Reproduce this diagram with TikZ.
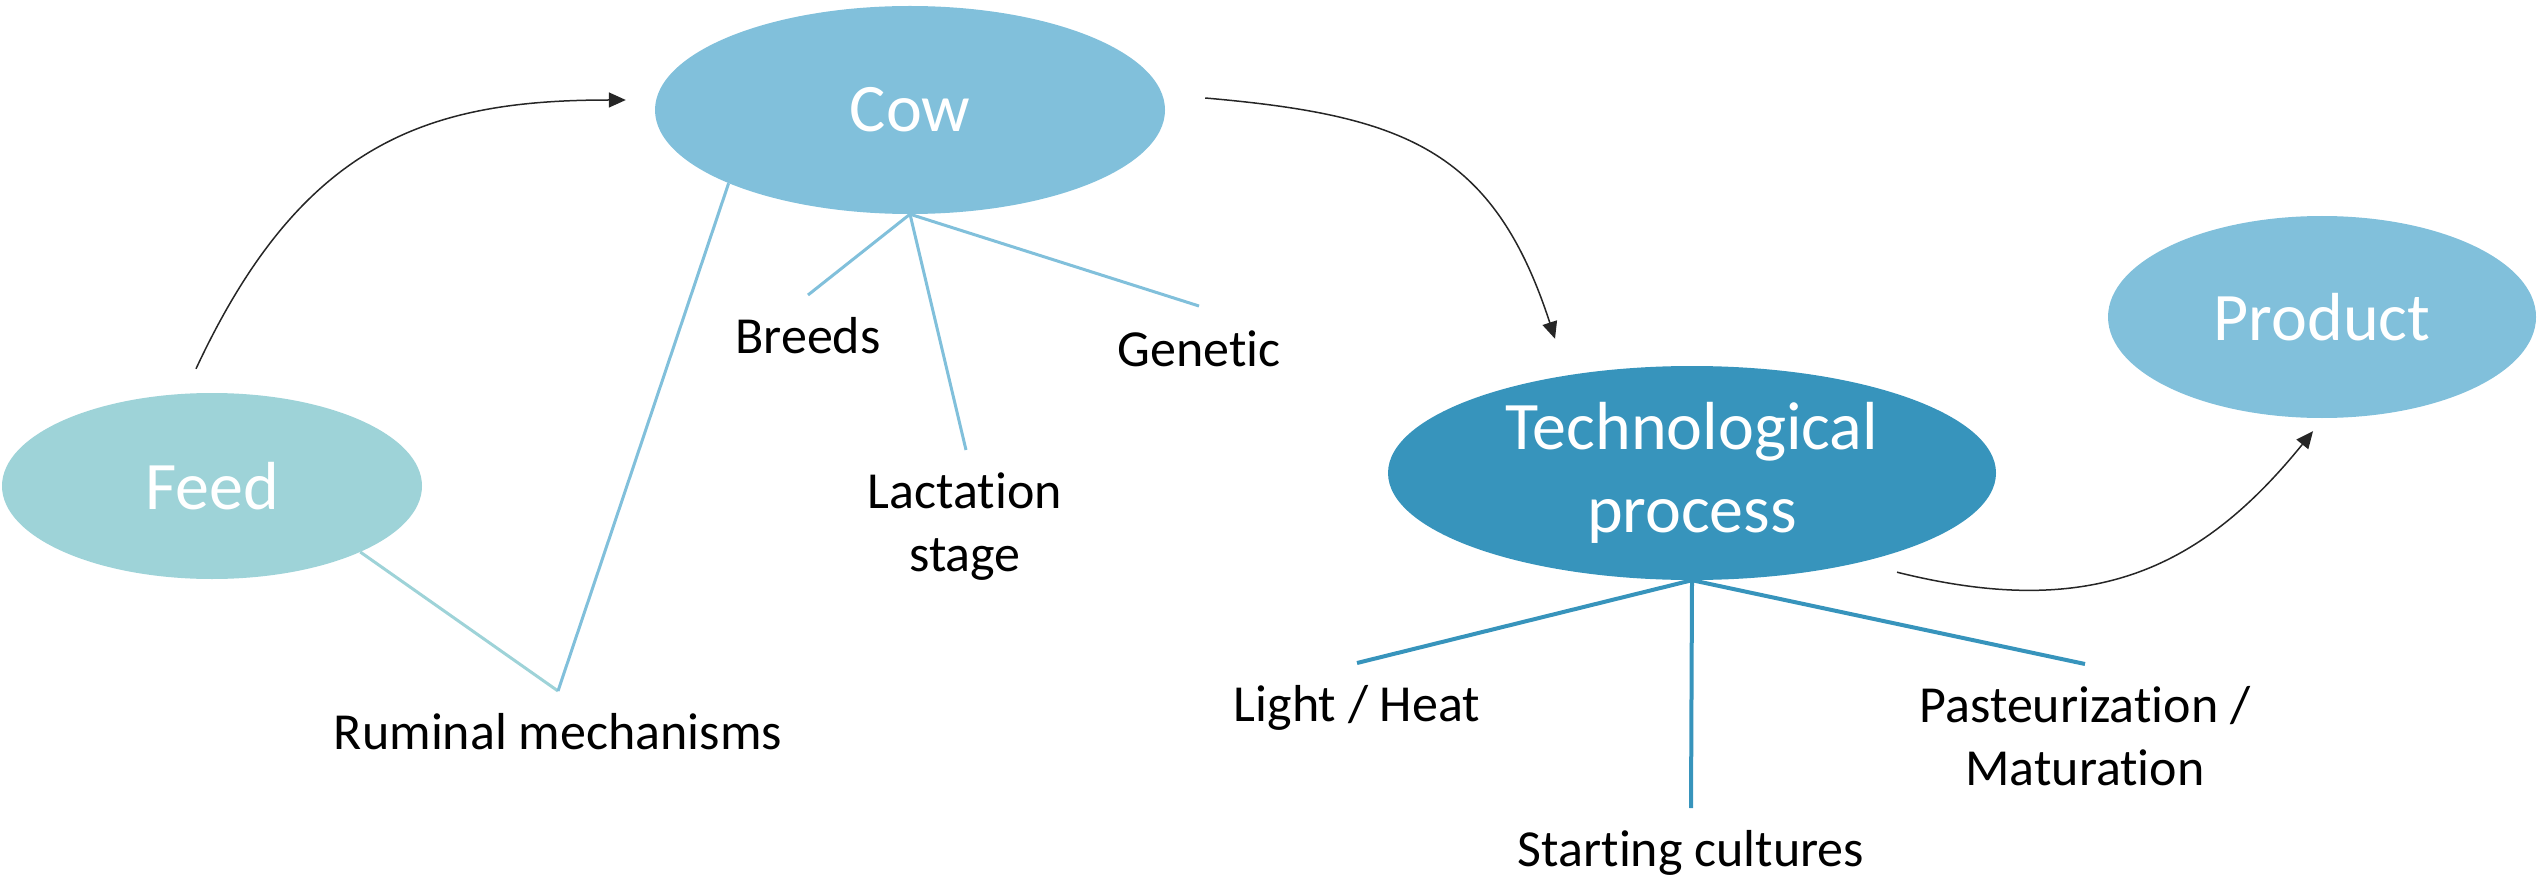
\documentclass[tikz,border=0pt]{standalone}
\usepackage{fontspec}
\setmainfont{Carlito}[Ligatures=NoCommon]
\usepackage{xcolor}
\usetikzlibrary{shapes.geometric,arrows.meta}
\definecolor{feedblue}{RGB}{158,211,216}
\definecolor{cowblue}{RGB}{129,192,219}
\definecolor{techblue}{RGB}{55,148,188}

\begin{document}
\begin{tikzpicture}[x=1pt,y=-1pt,
    bubble/.style={ellipse,inner sep=0pt,text=white,align=center,
      font=\fontsize{68}{83}\selectfont},
    factor/.style={inner sep=0pt,align=center,font=\fontsize{52}{63}\selectfont},
    branch/.style={line width=3pt},
    flow/.style={line width=1.5pt,black!85,-{Triangle[length=17pt,width=15pt]}}]
  \useasboundingbox (0,0) rectangle (2539,877);

  % main stages
  \node[bubble,fill=feedblue,minimum width=420pt,minimum height=186pt] (feed) at (212,486) {Feed};
  \node[bubble,fill=cowblue,minimum width=510pt,minimum height=208pt] (cow) at (910,110) {Cow};
  \node[bubble,fill=techblue,minimum width=608pt,minimum height=214pt] (tech) at (1692,473) {Technological\\process};
  \node[bubble,fill=cowblue,minimum width=428pt,minimum height=202pt] (product) at (2322,317) {Product};

  % factors
  \node[factor,anchor=base] (rumen) at (558,749) {Ruminal mechanisms};
  \node[factor,anchor=base] (breeds) at (808,353) {Breeds};
  \node[factor] (lact) at (965,527) {Lactation\\stage};
  \node[factor,anchor=base] (genetic) at (1199,366) {Genetic};
  \node[factor,anchor=base] (light) at (1357,721) {Light / Heat};
  \node[factor,anchor=base] (start) at (1691,866) {Starting cultures};
  \node[factor] (past) at (2085,736) {Pasteurization /\\Maturation};

  \coordinate (rumen-t) at (558,691);
  \coordinate (breeds-t) at (808,295);
  \coordinate (lact-t) at (966,450);
  \coordinate (genetic-t) at (1199,306);
  \coordinate (light-t) at (1357,663);
  \coordinate (start-t) at (1691,808);
  \coordinate (past-t) at (2085,664);

  \draw[branch,feedblue] (feed.-24) -- (rumen-t);
  \draw[branch,cowblue] (rumen-t) -- (cow.202);
  \path[branch,cowblue]
    (cow.south) edge (breeds-t)
    (cow.south) edge (lact-t)
    (cow.south) edge (genetic-t);
  \path[branch,line width=4pt,techblue]
    (tech.south) edge (light-t)
    (tech.south) edge (start-t)
    (tech.south) edge (past-t);

  % flow arrows
  \draw[flow] ([shift={(-16pt,24pt)}]feed.north)
    to[out=65,in=180,out looseness=1.26,in looseness=1] ([shift={(-29pt,10pt)}]cow.west);
  \draw[flow] ([shift={(40pt,12pt)}]cow.east)
    to[out=-5,in=108,looseness=1.2] ([shift={(-137pt,27pt)}]tech.north);
  \draw[flow] ([shift={(205pt,8pt)}]tech.south)
    to[out=-14,in=-129,out looseness=1.16,in looseness=1.05] ([shift={(-9pt,-13pt)}]product.south);
\end{tikzpicture}
\end{document}
